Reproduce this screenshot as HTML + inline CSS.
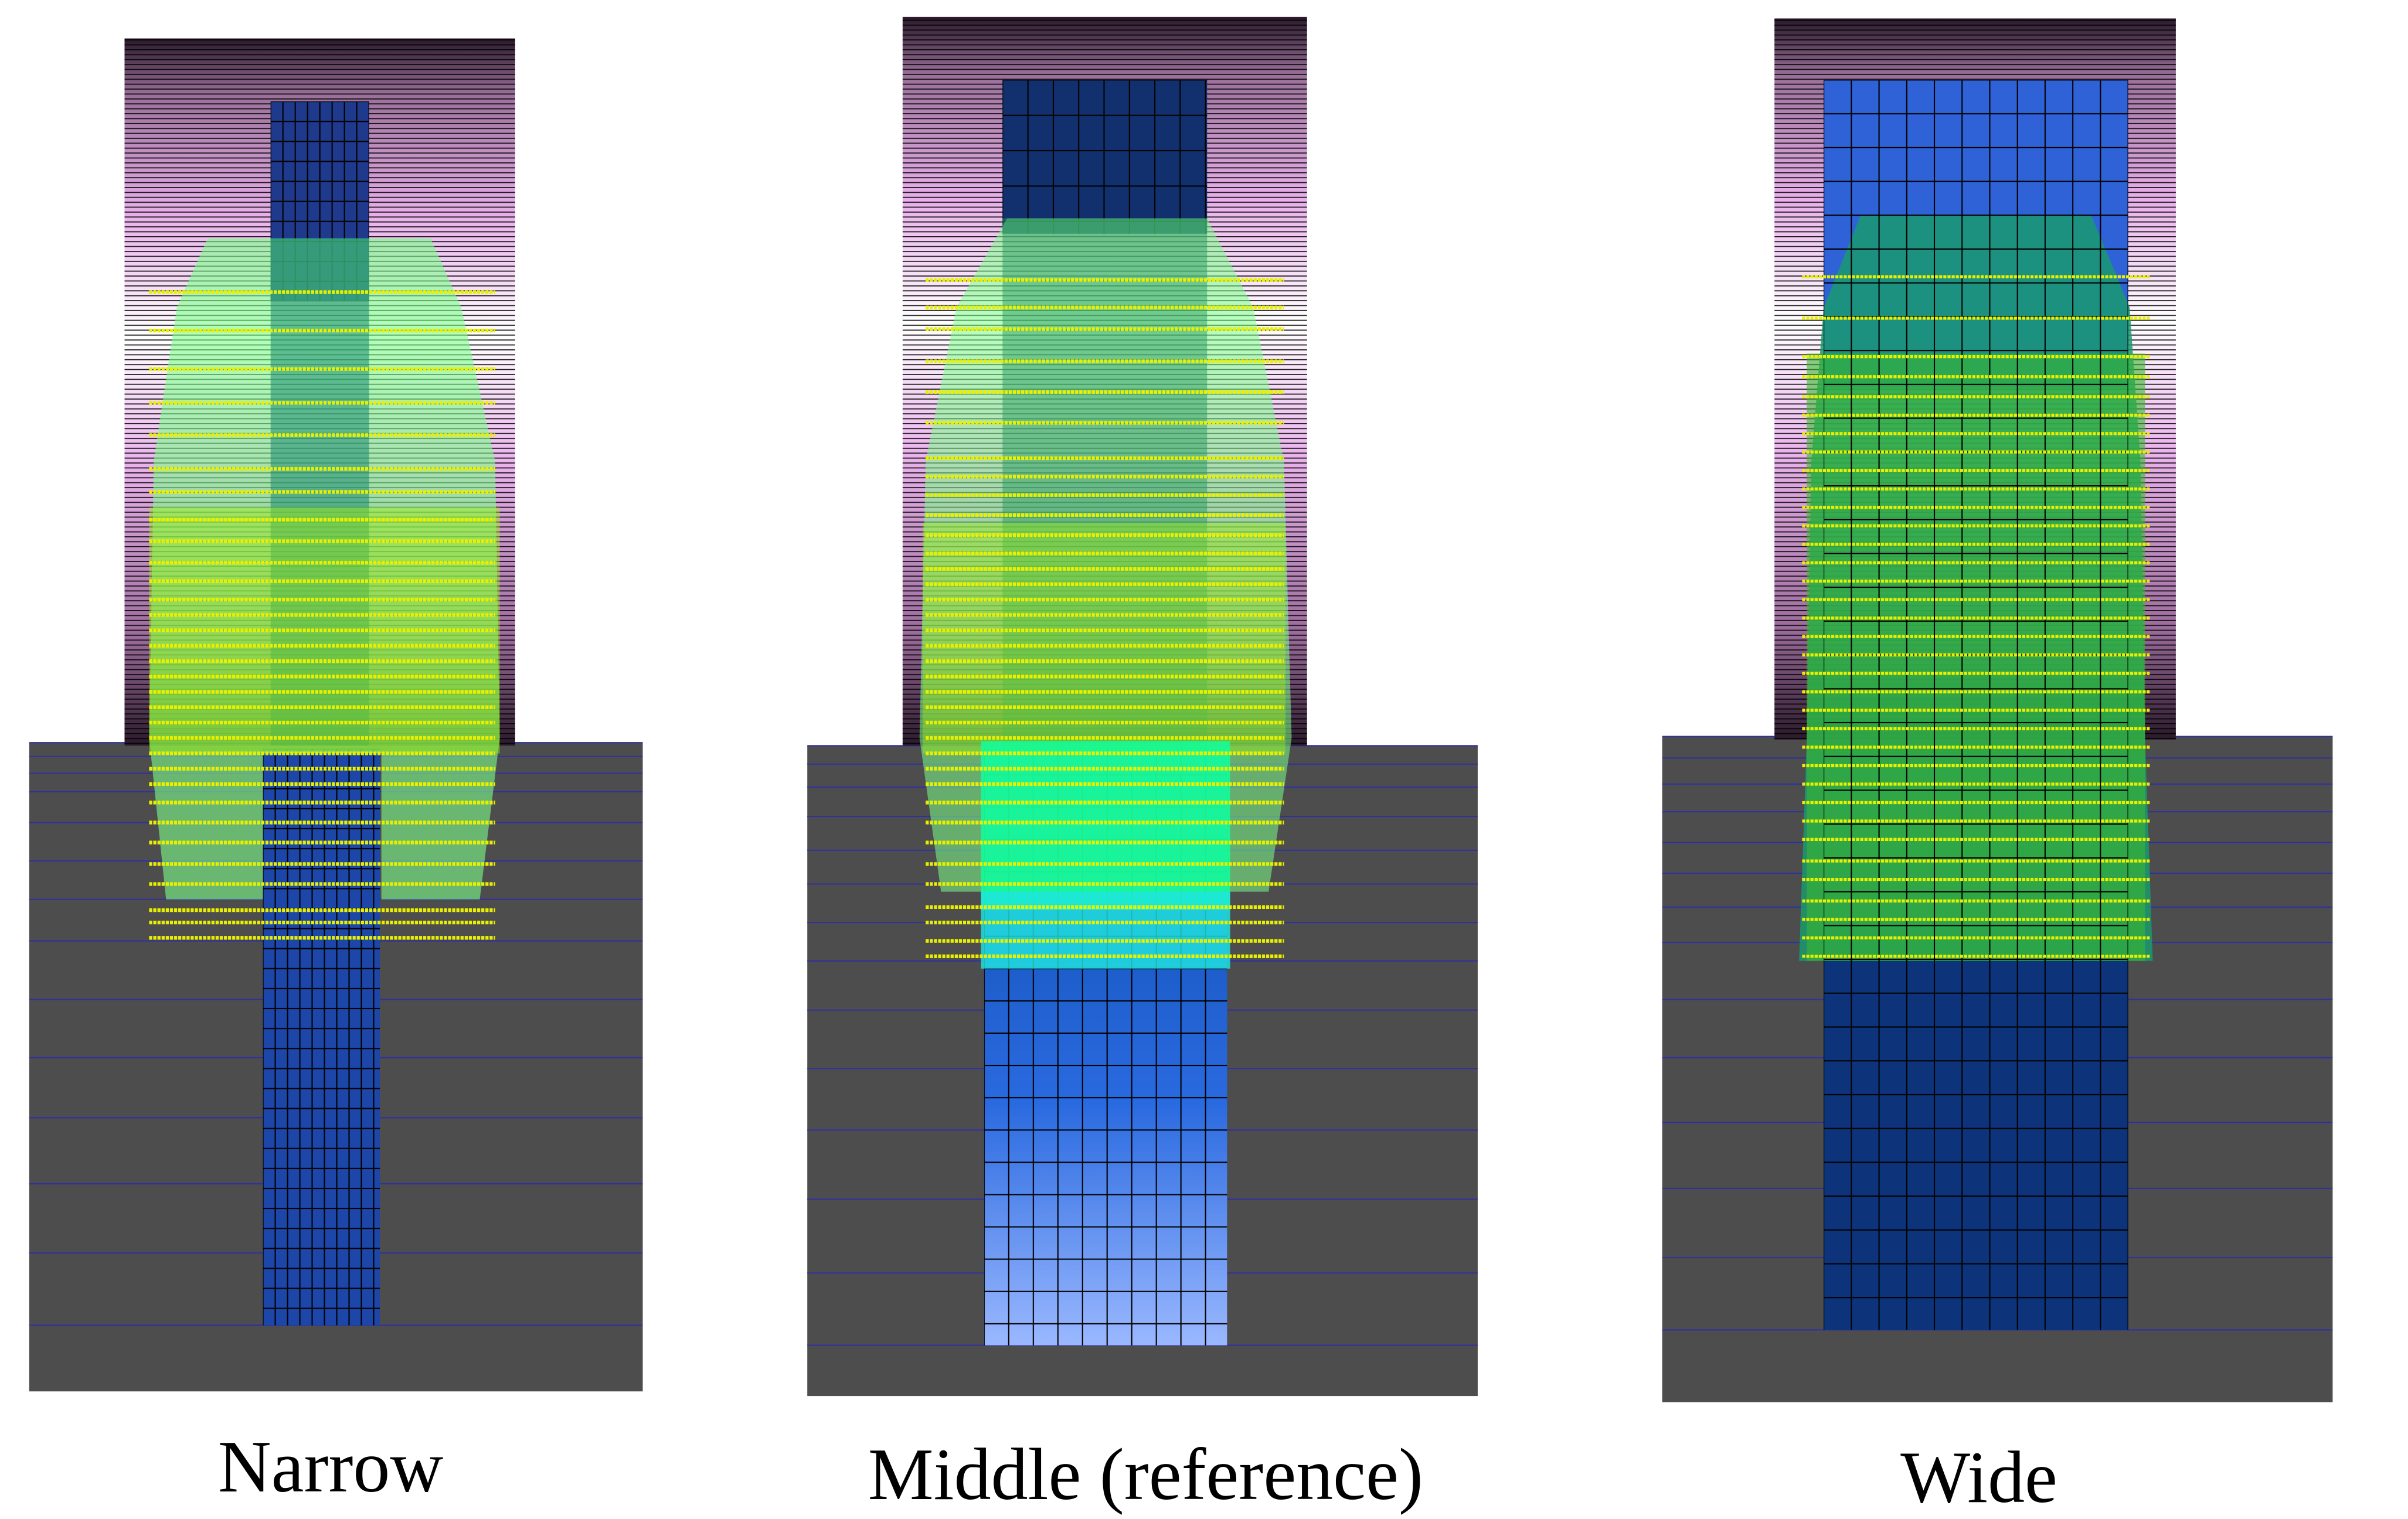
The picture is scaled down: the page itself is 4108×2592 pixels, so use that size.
<!DOCTYPE html>
<html><head><meta charset="utf-8"><style>
html,body{margin:0;padding:0;background:#fff;}
svg{display:block;}
</style></head><body>
<svg width="4108" height="2592" viewBox="0 0 1566 988" preserveAspectRatio="none" xmlns="http://www.w3.org/2000/svg">
<defs>
<linearGradient id="purp" x1="0" y1="0" x2="0" y2="1">
<stop offset="0" stop-color="#2a1a2a"/><stop offset="0.08" stop-color="#9a709a"/>
<stop offset="0.25" stop-color="#e8b0ea"/><stop offset="0.42" stop-color="#ffffff"/>
<stop offset="0.6" stop-color="#eab4ec"/><stop offset="0.85" stop-color="#9a6a9a"/><stop offset="1" stop-color="#2a1a2a"/>
</linearGradient>
<pattern id="hl" width="10" height="3.2" patternUnits="userSpaceOnUse"><rect width="10" height="0.7" fill="#000" opacity="0.85"/></pattern>
<pattern id="gridN" width="8" height="13" patternUnits="userSpaceOnUse" x="171" y="487"><rect width="8" height="13" fill="none" stroke="#000" stroke-width="0.8"/></pattern>
<pattern id="gridT" width="8" height="13" patternUnits="userSpaceOnUse" x="176" y="66"><rect width="8" height="13" fill="none" stroke="#000" stroke-width="0.8"/></pattern>
<pattern id="gridM" width="16" height="21" patternUnits="userSpaceOnUse" x="640" y="483"><rect width="16" height="21" fill="none" stroke="#000" stroke-width="0.8"/></pattern>
<pattern id="gridMT" width="16.5" height="23" patternUnits="userSpaceOnUse" x="652" y="52"><rect width="16.5" height="23" fill="none" stroke="#000" stroke-width="0.8"/></pattern>
<pattern id="gridW" width="18" height="22" patternUnits="userSpaceOnUse" x="1186" y="52"><rect width="18" height="22" fill="none" stroke="#000" stroke-width="0.8"/></pattern>
<linearGradient id="midblue" x1="0" y1="0" x2="0" y2="1"><stop offset="0" stop-color="#0a4aa8"/><stop offset="0.6" stop-color="#2a6ae0"/><stop offset="1" stop-color="#9ab8ff"/></linearGradient>
</defs>

<g>
<rect x="19" y="483" width="399" height="422" fill="#4d4d4d"/>
<g id="gl1"></g>
<rect x="81" y="25" width="254" height="460" fill="url(#purp)"/>
<rect x="81" y="25" width="254" height="460" fill="url(#hl)"/>
<rect x="176" y="66" width="64" height="130" fill="#1f3a8c"/>
<rect x="176" y="66" width="64" height="130" fill="url(#gridT)"/>
<rect x="171" y="487" width="76" height="375" fill="#1c46a8"/>
<rect x="171" y="487" width="76" height="375" fill="url(#gridN)"/>
<polygon points="135,155 280,155 300,200 322,300 325,480 312,585 248,585 248,490 171,490 171,585 108,585 97,480 100,300 115,200" fill="#7dff8a" opacity="0.6"/>
<rect x="176" y="155" width="64" height="330" fill="#1a8a70" opacity="0.55"/>
<rect x="97" y="330" width="228" height="160" fill="#9ef010" opacity="0.45"/>
<g id="yl1"></g>
</g>

<g>
<rect x="525" y="485" width="436" height="423" fill="#4d4d4d"/>
<g id="gl2"></g>
<rect x="587" y="11" width="263" height="474" fill="url(#purp)"/>
<rect x="587" y="11" width="263" height="474" fill="url(#hl)"/>
<rect x="652" y="52" width="133" height="100" fill="#13306e"/>
<rect x="652" y="52" width="133" height="100" fill="url(#gridMT)"/>
<rect x="640" y="483" width="158" height="392" fill="url(#midblue)"/>
<rect x="640" y="483" width="158" height="392" fill="url(#gridM)"/>
<polygon points="655,142 785,142 815,200 835,300 840,480 825,580 640,580 612,580 598,480 602,300 622,200" fill="#7dff8a" opacity="0.55"/>
<rect x="652" y="142" width="133" height="345" fill="#2a9a60" opacity="0.5"/>
<rect x="600" y="340" width="236" height="150" fill="#9ef010" opacity="0.4"/>
<rect x="638" y="482" width="162" height="110" fill="#10ff9a" opacity="0.85"/>
<rect x="638" y="580" width="162" height="50" fill="#20e8e0" opacity="0.8"/>
<g id="yl2"></g>
</g>

<g>
<rect x="1081" y="479" width="436" height="433" fill="#4d4d4d"/>
<g id="gl3"></g>
<rect x="1154" y="12" width="261" height="469" fill="url(#purp)"/>
<rect x="1154" y="12" width="261" height="469" fill="url(#hl)"/>
<rect x="1186" y="52" width="198" height="200" fill="#2f62d6"/>
<rect x="1186" y="600" width="198" height="265" fill="#0d347a"/>
<polygon points="1210,140 1360,140 1385,200 1392,300 1395,480 1400,625 1170,625 1175,480 1178,300 1186,200" fill="#1a9a70" opacity="0.85"/>
<rect x="1175" y="230" width="220" height="395" fill="#3ab830" opacity="0.6"/>
<rect x="1186" y="52" width="198" height="813" fill="url(#gridW)"/>
<g id="yl3"></g>
</g>

<text x="215" y="970" font-family="Liberation Serif, serif" font-size="48" text-anchor="middle" fill="#000">Narrow</text>
<text x="745" y="975" font-family="Liberation Serif, serif" font-size="48" text-anchor="middle" fill="#000">Middle (reference)</text>
<text x="1287" y="977" font-family="Liberation Serif, serif" font-size="48" text-anchor="middle" fill="#000">Wide</text>
</svg>
<script>
const rowsN=[190,215,240,262,283,305,320,338,352,366,378,390,400,410,420,430,440,450,460,470,480,490,500,510,522,535,548,562,575,592,600,610];
const rowsM=[182,200,214,235,255,275,298,310,322,335,348,360,370,380,390,400,410,420,430,440,450,460,470,480,490,500,510,522,535,548,562,575,590,600,612,622];
const rowsW=[180,207,232,245,258,270,282,294,306,318,330,342,354,366,378,390,402,414,426,438,450,462,474,486,498,510,522,534,546,560,572,586,598,610,622];
const groundN=[483,492,503,515,535,560,585,612,650,688,727,770,815,862];
const groundM=[485,497,512,531,553,575,600,625,657,695,735,780,828,875];
const groundW=[479,493,510,528,548,568,590,613,650,688,730,773,818,865];
const NS='http://www.w3.org/2000/svg';
function lines(id,rows,x1,x2,col,w,dash){
  const g=document.getElementById(id);
  rows.forEach(y=>{
    const l=document.createElementNS(NS,'line');
    
    
    l.setAttribute('x1',x1);l.setAttribute('x2',x2);
    l.setAttribute('y1',y);l.setAttribute('y2',y);
    l.setAttribute('stroke',col);l.setAttribute('stroke-width',w);
    if(dash)l.setAttribute('stroke-dasharray',dash);
    g.appendChild(l);
  });
}
lines('gl1',groundN,19,418,'#3030a0',0.8);
lines('gl2',groundM,525,961,'#3030a0',0.8);
lines('gl3',groundW,1081,1517,'#3030a0',0.8);
lines('yl1',rowsN,97,322,'#e8f000',2.4,'2 0.7');
lines('yl2',rowsM,602,835,'#e8f000',2.4,'2 0.7');
lines('yl3',rowsW,1172,1398,'#e8f000',2,'2 0.7');
</script>
</body></html>
